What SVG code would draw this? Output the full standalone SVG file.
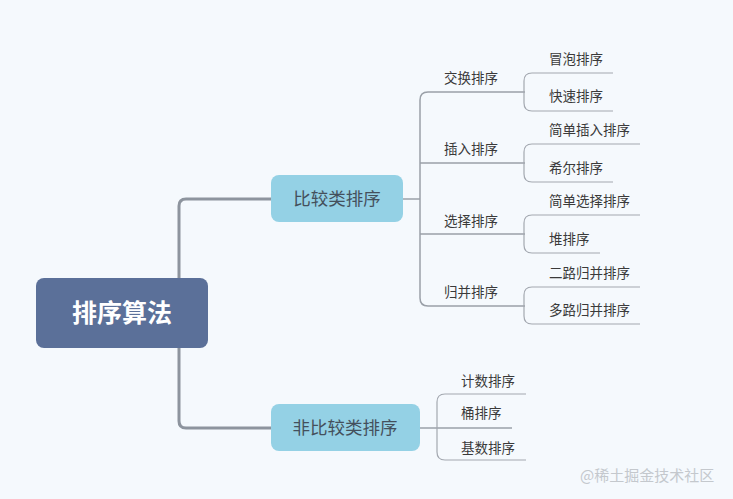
<svg xmlns="http://www.w3.org/2000/svg" width="733" height="499" viewBox="0 0 733 499">
<style>
.t{font-family:"Noto Sans CJK SC","Noto Sans",sans-serif;fill:#3a3a3a;}
.l3{font-size:13.5px;}
.l2{font-size:13.5px;}
.l1{font-size:17.5px;fill:#44505c;}
.c0{fill:none;stroke:#8d949e;stroke-width:3;}
.c1{fill:none;stroke:#9aa0a8;stroke-width:1.5;}
.c2{fill:none;stroke:#a3a8b0;stroke-width:1.2;}
</style>
<rect width="733" height="499" fill="#f5f9fd"/>
<g id="connectors">
<path class="c0" d="M271 199 H186 Q179 199 179 206 V421 Q179 428 186 428 H271"/>
<path class="c1" d="M403 199 H420"/>
<path class="c1" d="M525 92 H428 Q420 92 420 100 V298 Q420 306 428 306 H525 M420 163 H525 M420 234 H525"/>
<path class="c2" d="M613 73 H532 Q524 73 524 81 V103 Q524 111 532 111 H613"/>
<path class="c2" d="M640 144 H532 Q524 144 524 152 V174 Q524 182 532 182 H613"/>
<path class="c2" d="M640 215 H532 Q524 215 524 223 V245 Q524 253 532 253 H600"/>
<path class="c2" d="M640 287 H532 Q524 287 524 295 V316 Q524 324 532 324 H640"/>
<path class="c1" d="M420 428 H512"/>
<path class="c2" d="M526 394 H445 Q437 394 437 402 V452 Q437 460 445 460 H526"/>
</g>
<g id="root">
<rect x="36" y="278" width="172" height="70" rx="8" fill="#5b7099"/>
<text x="122" y="322" text-anchor="middle" font-family="Noto Sans CJK SC, sans-serif" font-size="25" font-weight="bold" fill="#ffffff">排序算法</text>
</g>
<g id="compare">
<rect x="271" y="175" width="132" height="47" rx="8" fill="#94d1e5"/>
<text class="t l1" x="337" y="205" text-anchor="middle">比较类排序</text>
</g>
<g id="noncompare">
<rect x="271" y="404" width="149" height="47" rx="8" fill="#94d1e5"/>
<text class="t l1" x="345" y="434" text-anchor="middle">非比较类排序</text>
</g>
<g id="exchange"><text class="t l2" x="444" y="83">交换排序</text></g>
<g id="bubble"><text class="t l3" x="549" y="64">冒泡排序</text></g>
<g id="quick"><text class="t l3" x="549" y="101">快速排序</text></g>
<g id="insert"><text class="t l2" x="444" y="154">插入排序</text></g>
<g id="simpleinsert"><text class="t l3" x="549" y="135">简单插入排序</text></g>
<g id="shell"><text class="t l3" x="549" y="173">希尔排序</text></g>
<g id="select"><text class="t l2" x="444" y="226">选择排序</text></g>
<g id="simpleselect"><text class="t l3" x="549" y="206">简单选择排序</text></g>
<g id="heap"><text class="t l3" x="549" y="244">堆排序</text></g>
<g id="merge"><text class="t l2" x="444" y="297">归并排序</text></g>
<g id="merge2"><text class="t l3" x="549" y="278">二路归并排序</text></g>
<g id="mergek"><text class="t l3" x="549" y="315">多路归并排序</text></g>
<g id="counting"><text class="t l3" x="461" y="386">计数排序</text></g>
<g id="bucket"><text class="t l3" x="461" y="418">桶排序</text></g>
<g id="radix"><text class="t l3" x="461" y="453">基数排序</text></g>
<text x="580" y="481" font-family="Noto Sans CJK SC, sans-serif" font-size="15" fill="#c4c8cd">@稀土掘金技术社区</text>
</svg>
